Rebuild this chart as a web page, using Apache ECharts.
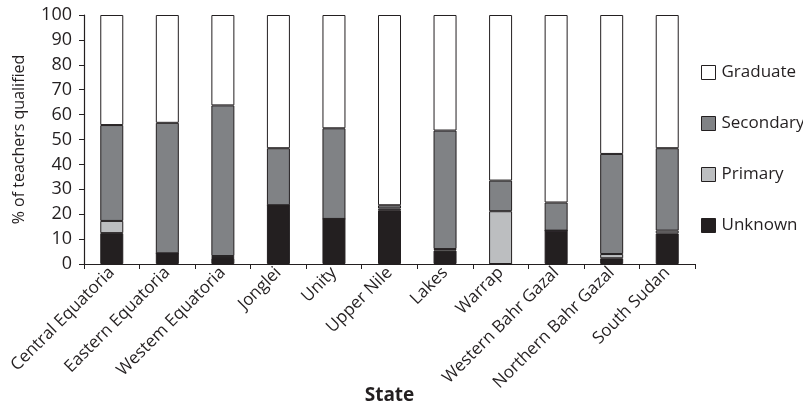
<!DOCTYPE html>
<html><head><meta charset="utf-8">
<script src="https://cdn.jsdelivr.net/npm/echarts@6/dist/echarts.min.js"></script>
<style>html,body{margin:0;padding:0;background:#fff}#c{width:803px;height:411px}</style>
</head><body><div id="c"></div>
<script>
var states = ["Central Equatoria","Eastern Equatoria","Westem Equatoria","Jonglei","Unity","Upper Nile","Lakes","Warrap","Western Bahr Gazal","Northern Bahr Gazal","South Sudan"];
var unknown   = [12.4, 4.3, 2.4, 23.6, 18.1, 21.6, 5.4, 0, 13.4, 2.3, 12.3];
var primary   = [4.9, 0, 0.8, 0, 0, 0.7, 0.6, 21.2, 0, 1.7, 1.1];
var secondary = [38.5, 52.4, 60.5, 22.9, 36.4, 1.3, 47.6, 12.3, 11.3, 40.2, 33.1];
var graduate  = [44.2, 43.3, 36.3, 53.5, 45.5, 76.4, 46.4, 66.5, 75.3, 55.8, 53.5];
var yTicks = [0,10,20,30,40,50,60,70,80,90,100];

var font = "'Open Sans', sans-serif";
var txt = '#231f20';
var chart = echarts.init(document.getElementById('c'));
function s(name, data, color){
  return {name:name, type:'bar', stack:'t', data:data, barWidth:23,
    itemStyle:{color:color, borderColor:'#231f20', borderWidth:1},
    emphasis:{disabled:true}};
}
chart.setOption({
  animation:false,
  grid:{left:84, top:15, right:108, bottom:147, containLabel:false, outerBoundsMode:'none'},
  legend:{orient:'vertical', left:696, top:59, itemWidth:14, itemHeight:14, itemGap:34,
    icon:'rect',
    data:['Graduate','Secondary','Primary','Unknown'],
    textStyle:{fontFamily:font, fontSize:17, color:txt, padding:[0,0,0,1]},
    itemStyle:{borderColor:'#231f20', borderWidth:1}},
  xAxis:{type:'category', data:states,
    axisLine:{lineStyle:{color:txt, width:1.2}},
    axisTick:{show:true, alignWithLabel:false, length:5, lineStyle:{color:txt}},
    axisLabel:{rotate:45, interval:0, fontFamily:font, fontSize:17, color:txt, margin:6},
    name:'State', nameLocation:'middle', nameGap:122, nameMoveOverlap:false,
    nameTextStyle:{fontFamily:font, fontSize:19, fontWeight:'bold', color:txt}},
  yAxis:{type:'value', min:0, max:100, interval:10,
    axisLine:{show:true, lineStyle:{color:txt, width:1.2}},
    axisTick:{show:true, length:5, lineStyle:{color:txt}},
    splitLine:{show:false},
    axisLabel:{fontFamily:font, fontSize:18, color:txt, margin:12,
      formatter:function(v){return yTicks.indexOf(v)>=0? String(v):'';}},
    name:'% of teachers qualified', nameLocation:'middle', nameGap:57, nameMoveOverlap:false,
    nameTextStyle:{fontFamily:font, fontSize:16, color:txt}},
  series:[
    s('Unknown', unknown, '#231f20'),
    s('Primary', primary, '#bcbec0'),
    s('Secondary', secondary, '#808285'),
    s('Graduate', graduate, '#ffffff')
  ]
});
</script></body></html>
